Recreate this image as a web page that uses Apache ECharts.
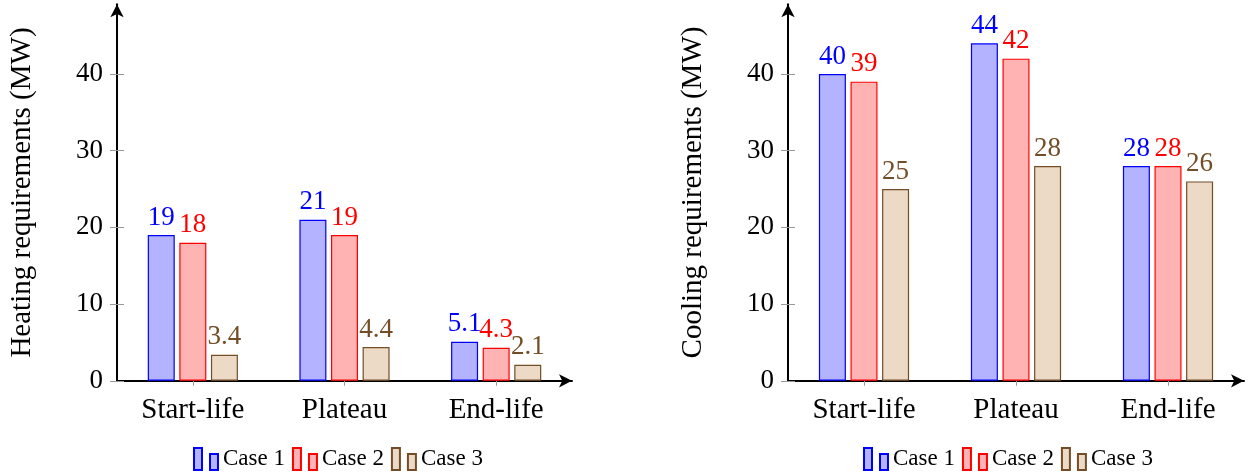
<!DOCTYPE html>
<html>
<head>
<meta charset="utf-8">
<script src="https://cdn.jsdelivr.net/npm/echarts@6/dist/echarts.min.js"></script>
<style>
  html, body { margin: 0; padding: 0; background: #fff; }
  #chart { width: 1248px; height: 473px; }
</style>
</head>
<body>
<div id="chart"></div>
<script>
// Phases of the project life
const categories = ['Start-life', 'Plateau', 'End-life'];
const seriesNames = ['Case 1', 'Case 2', 'Case 3'];

// Heating requirements (MW)
const heatCase1 = [19, 21, 5.1];
const heatCase2 = [18, 19, 4.3];
const heatCase3 = [3.4, 4.4, 2.1];

// Cooling requirements (MW)
const coolCase1 = [40, 44, 28];
const coolCase2 = [39, 42, 28];
const coolCase3 = [25, 28, 26];

const yTicks = [0, 10, 20, 30, 40];

const FONT = '"Liberation Serif", "DejaVu Serif", serif';
const strokeColors = ['#0000ff', '#ff0000', '#734d26'];
const fillColors = ['#b3b3ff', '#ffb3b3', '#ecd9c6'];

const Y_MAX = 49.1;
const PX_PER_UNIT = 7.67;
const AXIS_Y = 380.8;
const legendIcon = 'path://M0,0H8V22H0Z M16,6H24V22H16Z';

function xAxisFor(gridIndex) {
  return {
    type: 'category',
    gridIndex,
    data: categories,
    boundaryGap: true,
    axisLine: { show: true, lineStyle: { color: '#000', width: 2 }, symbol: ['none', 'arrow'], symbolSize: [10, 13] },
    axisTick: { show: true, alignWithLabel: true, length: 5, lineStyle: { color: '#999', width: 1 } },
    axisLabel: { color: '#000', fontFamily: FONT, fontSize: 29, margin: 15 },
    splitLine: { show: false }
  };
}

function yAxesFor(gridIndex, title) {
  return [{
    type: 'value',
    gridIndex,
    min: 0,
    max: Y_MAX,
    position: 'left',
    name: title,
    nameLocation: 'middle',
    nameGap: 80,
    nameTextStyle: { color: '#000', fontFamily: FONT, fontSize: 29 },
    axisLine: { show: true, lineStyle: { color: '#000', width: 2 }, symbol: ['none', 'arrow'], symbolSize: [10, 13] },
    axisTick: { show: true, length: 7, customValues: yTicks, lineStyle: { color: '#999', width: 1 } },
    axisLabel: { customValues: yTicks, color: '#000', fontFamily: FONT, fontSize: 27, margin: 14 },
    splitLine: { show: false }
  }, {
    // inner half of the tick marks
    type: 'value',
    gridIndex,
    min: 0,
    max: Y_MAX,
    position: 'left',
    axisLine: { show: false },
    axisTick: { show: true, inside: true, length: 7, customValues: yTicks, lineStyle: { color: '#999', width: 1 } },
    axisLabel: { show: false },
    splitLine: { show: false }
  }];
}

function barSeries(name, data, idx, xIdx, yIdx) {
  return {
    type: 'bar',
    name,
    data,
    xAxisIndex: xIdx,
    yAxisIndex: yIdx,
    barWidth: 27,
    barGap: '17%',
    itemStyle: { color: fillColors[idx], borderColor: strokeColors[idx], borderWidth: 1.2 },
    label: {
      show: true,
      position: 'top',
      distance: 4,
      color: strokeColors[idx],
      fontFamily: FONT,
      fontSize: 27
    },
    emphasis: { disabled: true },
    animation: false
  };
}

const heat = [heatCase1, heatCase2, heatCase3];
const cool = [coolCase1, coolCase2, coolCase3];

const series = [];
seriesNames.forEach((n, i) => series.push(barSeries(n, heat[i], i, 0, 0)));
seriesNames.forEach((n, i) => series.push(barSeries(n, cool[i], i, 1, 2)));

function legendAt(left) {
  return {
    left,
    top: 447,
    padding: 0,
    orient: 'horizontal',
    icon: legendIcon,
    itemWidth: 24,
    itemHeight: 22,
    itemGap: 7,
    selectedMode: false,
    textStyle: { color: '#000', fontFamily: FONT, fontSize: 23 },
    data: seriesNames.map(n => ({ name: n }))
  };
}

const gridTop = AXIS_Y - Y_MAX * PX_PER_UNIT;
const chart = echarts.init(document.getElementById('chart'), null, { renderer: 'canvas' });
chart.setOption({
  backgroundColor: '#fff',
  animation: false,
  grid: [
    { left: 117, width: 455, top: gridTop, bottom: 473 - AXIS_Y, containLabel: false },
    { left: 788, width: 456, top: gridTop, bottom: 473 - AXIS_Y, containLabel: false }
  ],
  xAxis: [xAxisFor(0), xAxisFor(1)],
  yAxis: [...yAxesFor(0, 'Heating requirements (MW)'), ...yAxesFor(1, 'Cooling requirements (MW)')],
  legend: [legendAt(193), legendAt(863)],
  series
});
</script>
</body>
</html>
